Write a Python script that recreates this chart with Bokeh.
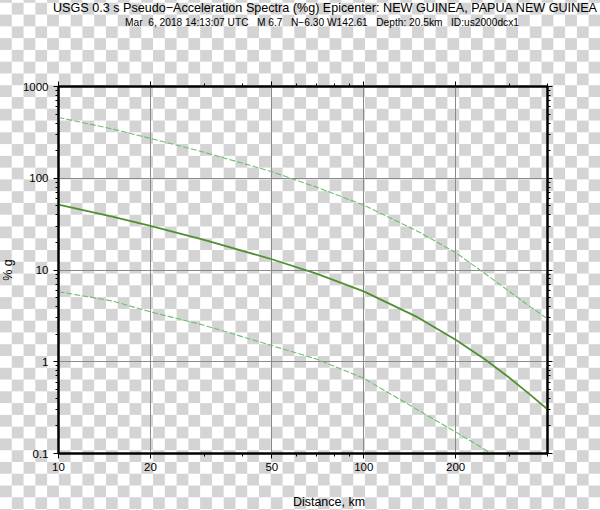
from bokeh.plotting import figure
from bokeh.models import LogAxis, FixedTicker, Div
from bokeh.layouts import column, row
from bokeh.embed import file_html
from bokeh.resources import INLINE

# ---- data ----
dist_km = [10, 15, 20, 30, 50, 70, 100, 150, 200, 250, 300, 350, 400]
median_pctg = [51.6, 38.1, 30.2, 21.3, 13.1, 9.13, 5.85, 3.06, 1.74, 1.056, 0.669, 0.441, 0.304]
upper_pctg = [460, 345, 272, 192, 118, 80, 51, 26.5, 15.5, 9.1, 5.85, 4.0, 2.94]
lower_pctg = [5.8, 4.6, 3.5, 2.5, 1.5, 1.07, 0.66, 0.3, 0.172, 0.11, 0.072, 0.05, 0.035]

x_major = [10, 20, 50, 100, 200]
x_labels = ["10", "20", "50", "100", "200"]
x_minor = [30, 40, 60, 70, 80, 90, 300, 400]
y_major = [0.1, 1, 10, 100, 1000]
y_labels = ["0.1", "1", "10", "100", "1000"]
y_minor = [0.2, 0.3, 0.4, 0.5, 0.6, 0.7, 0.8, 0.9,
           2, 3, 4, 5, 6, 7, 8, 9,
           20, 30, 40, 50, 60, 70, 80, 90,
           200, 300, 400, 500, 600, 700, 800, 900]

title_text = "USGS 0.3 s Pseudo\u2212Acceleration Spectra (%g) Epicenter: NEW GUINEA, PAPUA NEW GUINEA"
sub_text = "Mar  6, 2018 14:13:07 UTC   M 6.7   N\u22126.30 W142.61   Depth: 20.5km   ID:us2000dcx1"
x_title = "Distance, km"
y_title = "% g"

FONT = "Liberation Sans"
CSS_FONT = "font-family:'Liberation Sans',Arial,sans-serif;color:#000;"

# ---- header (title + subtitle) ----
top_div = Div(
    width=600, height=30, margin=0,
    text=(
        '<div style="position:relative;width:600px;height:30px;' + CSS_FONT + '">'
        '<div style="position:absolute;left:25px;width:600px;top:1.8px;text-align:center;'
        'font-size:12.6px;line-height:12.6px;white-space:pre;">' + title_text + '</div>'
        '<div style="position:absolute;left:122px;width:400px;top:17.5px;text-align:center;'
        'font-size:10.2px;line-height:10.2px;white-space:pre;">' + sub_text + '</div>'
        '</div>'
    ),
)

# ---- left strip (y-axis title, rotated) ----
left_div = Div(
    width=16, height=460, margin=0,
    text=(
        '<div style="position:relative;width:16px;height:460px;' + CSS_FONT + '">'
        '<div style="position:absolute;left:7.5px;top:240px;transform:translate(-50%,-50%) rotate(-90deg);'
        'font-size:12.5px;line-height:12.5px;white-space:pre;">' + y_title + '</div>'
        '</div>'
    ),
)

# ---- footer (x-axis title) ----
bottom_div = Div(
    width=600, height=20, margin=0,
    text=(
        '<div style="position:relative;width:600px;height:20px;' + CSS_FONT + '">'
        '<div style="position:absolute;left:229px;width:200px;top:6.4px;text-align:center;'
        'font-size:12.5px;line-height:12.5px;white-space:pre;">' + x_title + '</div>'
        '</div>'
    ),
)

p = figure(width=584, height=460, x_axis_type="log", y_axis_type="log",
           x_range=(10, 400), y_range=(0.1, 1000),
           output_backend="svg", toolbar_location=None,
           min_border_left=42, min_border_right=53, min_border_top=56, min_border_bottom=37)
p.background_fill_color = None
p.border_fill_color = None
p.outline_line_color = "black"
p.outline_line_width = 2

p.add_layout(LogAxis(), "above")
p.add_layout(LogAxis(), "right")

xt = FixedTicker(ticks=x_major, minor_ticks=x_minor)
yt = FixedTicker(ticks=y_major, minor_ticks=y_minor)
for ax in p.xaxis:
    ax.ticker = xt
for ax in p.yaxis:
    ax.ticker = yt

for ax in p.axis:
    ax.axis_line_color = "black"
    ax.axis_line_width = 2
    ax.major_tick_line_color = "black"
    ax.minor_tick_line_color = "black"
    ax.major_tick_in = 0
    ax.major_tick_out = 5
    ax.minor_tick_in = 0
    ax.minor_tick_out = 3
    ax.major_label_text_font = FONT
    ax.major_label_text_font_size = "11.5px"
    ax.major_label_text_color = "black"

p.below[0].major_label_overrides = {v: s for v, s in zip(x_major, x_labels)}
p.below[0].major_label_standoff = 4
p.left[0].major_label_overrides = {v: s for v, s in zip(y_major, y_labels)}
p.left[0].major_label_standoff = 5
p.above[0].major_label_overrides = {v: "" for v in x_major}
p.right[0].major_label_overrides = {v: "" for v in y_major}

p.xgrid.grid_line_color = "#8a8a8a"
p.ygrid.grid_line_color = "#8a8a8a"
p.xgrid.grid_line_width = 1
p.ygrid.grid_line_width = 1

p.line(dist_km, upper_pctg, line_color="#6cc06c", line_width=1.1, line_dash="6 2")
p.line(dist_km, lower_pctg, line_color="#6cc06c", line_width=1.1, line_dash="6 2")
p.line(dist_km, median_pctg, line_color="#4f9030", line_width=1.8)

layout = column(top_div, row(left_div, p, spacing=0), bottom_div, spacing=0)

page_style = """{% block preamble %}<style>
html, body { margin: 0 !important; padding: 0 !important; overflow: hidden; }
html { background-color: #ffffff; background-image: repeating-conic-gradient(#d4d4d4 0% 25%, #ffffff 0% 50%); background-size: 23.56px 23.56px; background-position: 0px 2.8px; }
</style>{% endblock %}"""

open("out.html", "w").write(file_html(layout, INLINE, template=page_style))
